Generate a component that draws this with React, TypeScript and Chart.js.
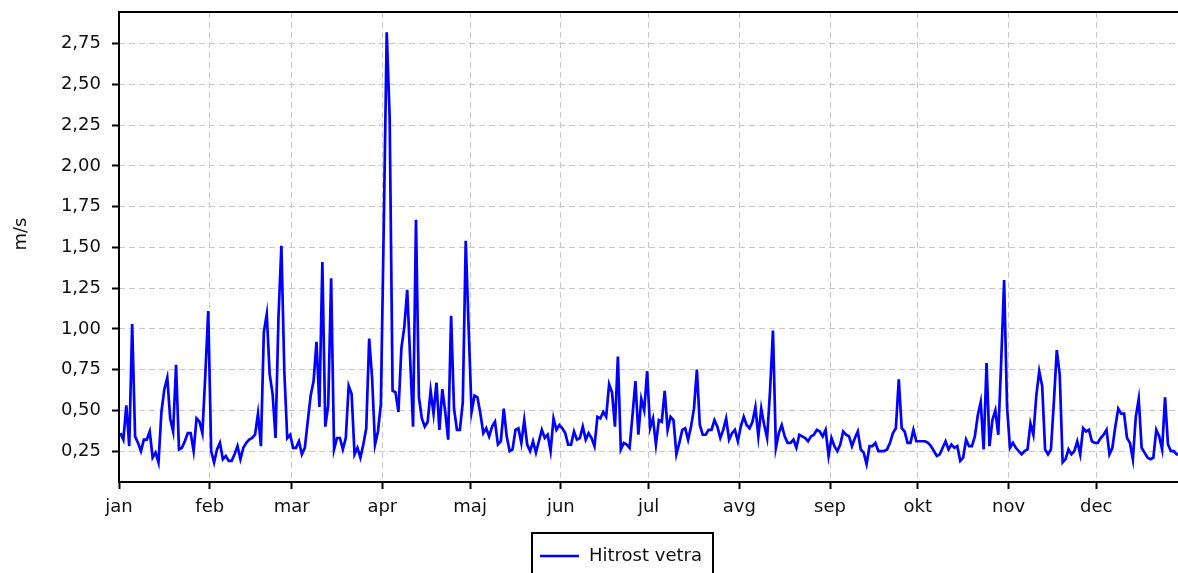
import React, { useEffect, useRef } from "react";
import { Chart, registerables } from "chart.js";

Chart.register(...registerables);

// ---- data ----
const monthLabels = ["jan", "feb", "mar", "apr", "maj", "jun", "jul", "avg", "sep", "okt", "nov", "dec"];
const monthStartDays = [0, 31, 59, 90, 120, 151, 181, 212, 243, 273, 304, 334];
const yTickValues = [0.25, 0.5, 0.75, 1.0, 1.25, 1.5, 1.75, 2.0, 2.25, 2.5, 2.75];
const seriesLabel = "Hitrost vetra";
const yAxisTitle = "m/s";

const janValues = [0.36, 0.32, 0.53, 0.28, 1.03, 0.34, 0.30, 0.25, 0.32, 0.32, 0.37, 0.21, 0.24, 0.18, 0.49, 0.63, 0.70, 0.45, 0.37, 0.78, 0.26, 0.27, 0.31, 0.36, 0.36, 0.25, 0.45, 0.43, 0.36, 0.72, 1.11];
const febValues = [0.25, 0.18, 0.26, 0.30, 0.20, 0.22, 0.19, 0.19, 0.23, 0.28, 0.20, 0.27, 0.30, 0.32, 0.33, 0.35, 0.48, 0.28, 0.98, 1.09, 0.72, 0.60, 0.33, 1.07, 1.51, 0.74, 0.33, 0.35];
const marValues = [0.27, 0.27, 0.31, 0.23, 0.27, 0.43, 0.59, 0.68, 0.92, 0.52, 1.41, 0.40, 0.53, 1.31, 0.26, 0.33, 0.33, 0.26, 0.33, 0.65, 0.60, 0.23, 0.27, 0.21, 0.29, 0.39, 0.94, 0.70, 0.29, 0.37, 0.54];
const aprValues = [1.65, 2.82, 2.30, 0.62, 0.61, 0.49, 0.88, 1.01, 1.24, 0.82, 0.40, 1.67, 0.58, 0.45, 0.40, 0.43, 0.62, 0.48, 0.67, 0.38, 0.63, 0.49, 0.32, 1.08, 0.51, 0.38, 0.38, 0.55, 1.54, 1.00];
const majValues = [0.49, 0.59, 0.58, 0.48, 0.36, 0.39, 0.34, 0.40, 0.43, 0.29, 0.31, 0.51, 0.34, 0.25, 0.26, 0.38, 0.39, 0.30, 0.44, 0.29, 0.25, 0.31, 0.24, 0.31, 0.38, 0.33, 0.35, 0.25, 0.45, 0.38, 0.41];
const junValues = [0.39, 0.36, 0.29, 0.29, 0.37, 0.32, 0.33, 0.40, 0.32, 0.36, 0.33, 0.28, 0.46, 0.45, 0.49, 0.46, 0.66, 0.61, 0.40, 0.83, 0.26, 0.30, 0.29, 0.27, 0.47, 0.68, 0.35, 0.57, 0.50, 0.74];
const julValues = [0.39, 0.45, 0.29, 0.44, 0.43, 0.62, 0.38, 0.46, 0.44, 0.23, 0.30, 0.38, 0.39, 0.32, 0.40, 0.51, 0.75, 0.41, 0.35, 0.35, 0.38, 0.38, 0.44, 0.40, 0.33, 0.38, 0.45, 0.32, 0.36, 0.38, 0.31];
const avgValues = [0.40, 0.46, 0.41, 0.39, 0.43, 0.52, 0.34, 0.51, 0.41, 0.33, 0.62, 0.99, 0.27, 0.36, 0.41, 0.34, 0.30, 0.30, 0.32, 0.27, 0.35, 0.34, 0.33, 0.31, 0.34, 0.35, 0.38, 0.37, 0.34, 0.38, 0.22];
const sepValues = [0.33, 0.28, 0.25, 0.29, 0.37, 0.35, 0.34, 0.28, 0.33, 0.37, 0.26, 0.24, 0.17, 0.28, 0.28, 0.30, 0.25, 0.25, 0.25, 0.26, 0.30, 0.36, 0.39, 0.69, 0.39, 0.37, 0.30, 0.30, 0.38, 0.31];
const oktValues = [0.31, 0.31, 0.31, 0.30, 0.28, 0.25, 0.22, 0.23, 0.27, 0.31, 0.26, 0.29, 0.27, 0.28, 0.19, 0.21, 0.32, 0.28, 0.28, 0.34, 0.47, 0.55, 0.26, 0.79, 0.28, 0.44, 0.50, 0.35, 0.80, 1.30, 0.52];
const novValues = [0.27, 0.30, 0.27, 0.25, 0.23, 0.25, 0.26, 0.42, 0.35, 0.59, 0.74, 0.65, 0.26, 0.23, 0.26, 0.55, 0.87, 0.72, 0.18, 0.20, 0.26, 0.23, 0.25, 0.31, 0.23, 0.39, 0.37, 0.38, 0.31, 0.30];
const decValues = [0.30, 0.33, 0.35, 0.38, 0.23, 0.27, 0.40, 0.51, 0.48, 0.48, 0.33, 0.30, 0.20, 0.46, 0.57, 0.27, 0.24, 0.21, 0.20, 0.21, 0.38, 0.34, 0.26, 0.58, 0.29, 0.25, 0.25, 0.23, 0.23, 0.22, 0.22];

const dailyValues = [
  ...janValues, ...febValues, ...marValues, ...aprValues, ...majValues, ...junValues,
  ...julValues, ...avgValues, ...sepValues, ...oktValues, ...novValues, ...decValues,
];

const FONT = '"DejaVu Sans", Verdana, sans-serif';
const FONT_SIZE = 18;
const TEXT_COLOR = "#111111";
const LINE_COLOR = "#0000ff";
const GRID_COLOR = "#c8c8c8";

const framePlugin = {
  id: "frame",
  afterDraw(chart: any) {
    const { ctx, chartArea } = chart;
    const { left, top, right, bottom } = chartArea;
    ctx.save();
    ctx.strokeStyle = "#000";
    ctx.lineWidth = 2;
    ctx.strokeRect(left, top, right - left, bottom - top);
    ctx.restore();
  },
};

const axisTitlePlugin = {
  id: "axisTitle",
  afterDraw(chart: any, _args: any, opts: any) {
    const { ctx } = chart;
    ctx.save();
    ctx.translate(opts.x, opts.y);
    ctx.rotate(-Math.PI / 2);
    ctx.fillStyle = TEXT_COLOR;
    ctx.font = `${FONT_SIZE}px ${FONT}`;
    ctx.textAlign = "center";
    ctx.textBaseline = "middle";
    ctx.fillText(opts.text, 0, 0);
    ctx.restore();
  },
};

const legendBoxPlugin = {
  id: "legendBox",
  afterDraw(chart: any, _args: any, opts: any) {
    const { ctx } = chart;
    const { x, y, w, h } = opts;
    const ds = chart.data.datasets[0];
    ctx.save();
    ctx.fillStyle = "#fff";
    ctx.fillRect(x, y, w, h);
    ctx.strokeStyle = "#000";
    ctx.lineWidth = 2;
    ctx.strokeRect(x, y, w, h);
    const cy = y + 23;
    ctx.strokeStyle = ds.borderColor;
    ctx.lineWidth = 2.5;
    ctx.beginPath();
    ctx.moveTo(x + 8, cy);
    ctx.lineTo(x + 47, cy);
    ctx.stroke();
    ctx.fillStyle = TEXT_COLOR;
    ctx.font = `${FONT_SIZE}px ${FONT}`;
    ctx.textBaseline = "middle";
    ctx.textAlign = "left";
    ctx.fillText(ds.label, x + 57, cy);
    ctx.restore();
  },
};

export default function App() {
  const canvasRef = useRef<HTMLCanvasElement | null>(null);

  useEffect(() => {
    if (!canvasRef.current) return;
    // daily means plotted at mid-day
    const points = dailyValues.map((v, i) => ({ x: i + 0.5, y: v }));
    const chart = new Chart(canvasRef.current, {
      type: "line",
      data: {
        datasets: [
          {
            label: seriesLabel,
            data: points,
            borderColor: LINE_COLOR,
            backgroundColor: LINE_COLOR,
            borderWidth: 2.7,
            pointRadius: 0,
            pointHoverRadius: 0,
            tension: 0,
            fill: false,
          },
        ],
      },
      options: {
        responsive: false,
        animation: false,
        events: [],
        layout: { padding: { top: 12, right: 13, left: 0, bottom: 0 } },
        plugins: {
          legend: { display: false },
          tooltip: { enabled: false },
          legendBox: { x: 532, y: 533, w: 181, h: 60 },
          axisTitle: { text: yAxisTitle, x: 21, y: 234 },
        } as any,
        scales: {
          x: {
            type: "linear",
            min: 0,
            max: 365,
            afterBuildTicks: (scale: any) => {
              scale.ticks = monthStartDays.map((v) => ({ value: v }));
            },
            afterFit: (scale: any) => {
              scale.height = 118;
              scale.paddingLeft = 0;
              scale.paddingRight = 0;
            },
            ticks: {
              autoSkip: false,
              maxRotation: 0,
              padding: 8,
              color: TEXT_COLOR,
              font: { family: FONT, size: FONT_SIZE },
              callback: (value: any) => {
                const i = monthStartDays.indexOf(Number(value));
                return i >= 0 ? monthLabels[i] : "";
              },
            },
            grid: {
              color: GRID_COLOR,
              lineWidth: 1,
              tickColor: "#000",
              tickWidth: 2,
              tickLength: 7,
              drawTicks: true,
            },
            border: { display: false, dash: [6, 4] },
          },
          y: {
            type: "linear",
            min: 0.06,
            max: 2.945,
            afterBuildTicks: (scale: any) => {
              scale.ticks = yTickValues.map((v) => ({ value: v }));
            },
            afterFit: (scale: any) => {
              scale.width = 119;
              scale.paddingTop = 0;
              scale.paddingBottom = 0;
            },
            ticks: {
              padding: 11,
              color: TEXT_COLOR,
              font: { family: FONT, size: FONT_SIZE },
              callback: (value: any) => Number(value).toFixed(2).replace(".", ","),
            },
            grid: {
              color: GRID_COLOR,
              lineWidth: 1,
              tickColor: "#000",
              tickWidth: 2,
              tickLength: 7,
              drawTicks: true,
            },
            border: { display: false, dash: [6, 4] },
            title: { display: false, text: yAxisTitle },
          },
        },
      },
      plugins: [framePlugin, axisTitlePlugin, legendBoxPlugin],
    });
    return () => chart.destroy();
  }, []);

  return (
    <div
      style={{
        position: "absolute",
        left: 0,
        top: 0,
        width: 1178,
        height: 573,
        overflow: "hidden",
        background: "#fff",
      }}
    >
      <canvas ref={canvasRef} width={1200} height={600} style={{ display: "block" }} />
    </div>
  );
}
